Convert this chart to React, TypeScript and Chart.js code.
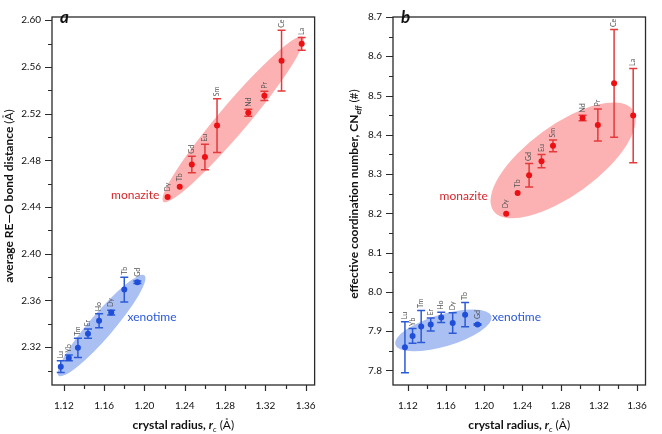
import React, { useEffect, useRef } from 'react';
import { Chart, registerables } from 'chart.js';
Chart.register(...registerables);

// ---------- data ----------
const monaziteElements = ['La', 'Ce', 'Pr', 'Nd', 'Sm', 'Eu', 'Gd', 'Tb', 'Dy'];
const monaziteRadius = [1.356, 1.336, 1.319, 1.303, 1.272, 1.26, 1.247, 1.235, 1.223];
const monaziteDist = [2.5798, 2.5654, 2.5353, 2.5208, 2.5098, 2.4829, 2.4765, 2.4574, 2.4486];
const monaziteDistErr = [0.0055, 0.026, 0.004, 0.003, 0.023, 0.011, 0.007, 0, 0];
const monaziteCN = [8.449, 8.531, 8.425, 8.443, 8.372, 8.333, 8.297, 8.252, 8.199];
const monaziteCNErr = [0.12, 0.137, 0.041, 0.007, 0.015, 0.017, 0.03, 0, 0];

const xenotimeElements = ['Lu', 'Yb', 'Tm', 'Er', 'Ho', 'Dy', 'Tb', 'Gd'];
const xenotimeRadius = [1.117, 1.125, 1.134, 1.144, 1.155, 1.167, 1.18, 1.193];
const xenotimeDist = [2.3033, 2.3108, 2.3194, 2.3316, 2.3427, 2.3496, 2.3693, 2.3756];
const xenotimeDistErr = [0.005, 0.0025, 0.0083, 0.004, 0.006, 0.002, 0.0106, 0.001];
const xenotimeCN = [7.859, 7.888, 7.912, 7.917, 7.935, 7.921, 7.942, 7.917];
const xenotimeCNErr = [0.065, 0.019, 0.041, 0.0165, 0.013, 0.026, 0.031, 0.002];

const xTickLabels = [1.12, 1.16, 1.2, 1.24, 1.28, 1.32, 1.36];
const xMinorStep = 0.02;
const distTickLabels = [2.32, 2.36, 2.4, 2.44, 2.48, 2.52, 2.56, 2.6];
const distMinorStep = 0.02;
const cnTickLabels = [7.8, 7.9, 8.0, 8.1, 8.2, 8.3, 8.4, 8.5, 8.6, 8.7];
const cnMinorStep = 0.05;

// ---------- styles ----------
const FONT = 'Lato, "Open Sans", sans-serif';
const RED = '#ec0f14';
const RED_BAR = '#e43a3c';
const RED_TEXT = '#d8262a';
const PINK = '#fcb2b2';
const BLUE = '#1f4fd8';
const BLUE_BAR = '#2c5ad6';
const BLUE_TEXT = '#2a58d8';
const LIGHTBLUE = '#aac0f3';
const AXIS = '#2a2a2a';
const H = 434;
const W = 331;

type Run = { t: string; f: string; dy?: number };

type PanelCfg = {
  letter: string;
  area: { left: number; right: number; top: number; bottom: number };
  xRange: [number, number];
  yRange: [number, number];
  yTicks: number[];
  yMinor: number;
  yDec: number;
  monY: number[];
  monErr: number[];
  xenY: number[];
  xenErr: number[];
  monEllipse: { x: number; y: number; rx: number; ry: number; angle: number };
  xenEllipse: { x: number; y: number; rx: number; ry: number; angle: number };
  monText: { x: number; y: number };
  xenText: { x: number; y: number };
  yTitle: Run[];
  yTitleX: number;
  yTitleY: number;
};

const xTitle: Run[] = [
  { t: 'crystal radius, ', f: `bold 12px ${FONT}` },
  { t: 'r', f: `bold italic 12px ${FONT}` },
  { t: 'c', f: `italic 8px ${FONT}`, dy: 2.5 },
  { t: ' (Å)', f: `12px ${FONT}` },
];

const panelA: PanelCfg = {
  letter: 'a',
  area: { left: 52, right: 320, top: 5, bottom: 385 },
  xRange: [1.1083, 1.3688],
  yRange: [2.2876, 2.6028],
  yTicks: distTickLabels,
  yMinor: distMinorStep,
  yDec: 2,
  monY: monaziteDist,
  monErr: monaziteDistErr,
  xenY: xenotimeDist,
  xenErr: xenotimeDistErr,
  monEllipse: { x: 1.288, y: 2.5152, rx: 108, ry: 14.5, angle: 49.7 },
  xenEllipse: { x: 1.1575, y: 2.3385, rx: 66, ry: 12, angle: 49.4 },
  monText: { x: 1.2147, y: 2.45 },
  xenText: { x: 1.1832, y: 2.3454 },
  yTitle: [
    { t: 'average RE—O bond distance ', f: `bold 12px ${FONT}` },
    { t: '(Å)', f: `12px ${FONT}` },
  ],
  yTitleX: 12.5,
  yTitleY: 196,
};

const panelB: PanelCfg = {
  letter: 'b',
  area: { left: 62, right: 329, top: 5, bottom: 385 },
  xRange: [1.1045, 1.3689],
  yRange: [7.763, 8.7],
  yTicks: cnTickLabels,
  yMinor: cnMinorStep,
  yDec: 1,
  monY: monaziteCN,
  monErr: monaziteCNErr,
  xenY: xenotimeCN,
  xenErr: xenotimeCNErr,
  monEllipse: { x: 1.2826, y: 8.335, rx: 86, ry: 35, angle: 36 },
  xenEllipse: { x: 1.1572, y: 7.902, rx: 50, ry: 16, angle: 16.5 },
  monText: { x: 1.2038, y: 8.245 },
  xenText: { x: 1.2081, y: 7.9347 },
  yTitle: [
    { t: 'effective coordination number, CN', f: `bold 12px ${FONT}` },
    { t: 'eff', f: `bold italic 8px ${FONT}`, dy: 2.5 },
    { t: ' (#)', f: `12px ${FONT}` },
  ],
  yTitleX: 27,
  yTitleY: 194,
};

function drawRuns(ctx: CanvasRenderingContext2D, runs: Run[], cx: number, cy: number, rotate: boolean) {
  ctx.save();
  ctx.translate(cx, cy);
  if (rotate) ctx.rotate(-Math.PI / 2);
  let total = 0;
  for (const r of runs) {
    ctx.font = r.f;
    total += ctx.measureText(r.t).width;
  }
  let x = -total / 2;
  ctx.fillStyle = '#111';
  ctx.textBaseline = 'alphabetic';
  ctx.textAlign = 'left';
  for (const r of runs) {
    ctx.font = r.f;
    ctx.fillText(r.t, x, r.dy || 0);
    x += ctx.measureText(r.t).width;
  }
  ctx.restore();
}

function makePlugin(cfg: PanelCfg) {
  return {
    id: 'panel' + cfg.letter,
    beforeDatasetsDraw(chart: any) {
      const ctx: CanvasRenderingContext2D = chart.ctx;
      const xs = chart.scales.x;
      const ys = chart.scales.y;
      const ells = [
        { e: cfg.monEllipse, c: PINK },
        { e: cfg.xenEllipse, c: LIGHTBLUE },
      ];
      ctx.save();
      for (const { e, c } of ells) {
        ctx.beginPath();
        ctx.ellipse(xs.getPixelForValue(e.x), ys.getPixelForValue(e.y), e.rx, e.ry, (-e.angle * Math.PI) / 180, 0, Math.PI * 2);
        ctx.fillStyle = c;
        ctx.fill();
      }
      const groups = [
        { xv: monaziteRadius, yv: cfg.monY, ev: cfg.monErr, c: RED_BAR },
        { xv: xenotimeRadius, yv: cfg.xenY, ev: cfg.xenErr, c: BLUE_BAR },
      ];
      ctx.lineWidth = 1.5;
      for (const g of groups) {
        ctx.strokeStyle = g.c;
        g.xv.forEach((xv, i) => {
          const err = g.ev[i];
          if (!err) return;
          const px = xs.getPixelForValue(xv);
          const top = ys.getPixelForValue(g.yv[i] + err);
          const bot = ys.getPixelForValue(g.yv[i] - err);
          ctx.beginPath();
          ctx.moveTo(px, top);
          ctx.lineTo(px, bot);
          ctx.moveTo(px - 4, top);
          ctx.lineTo(px + 4, top);
          ctx.moveTo(px - 4, bot);
          ctx.lineTo(px + 4, bot);
          ctx.stroke();
        });
      }
      ctx.restore();
    },
    afterDatasetsDraw(chart: any) {
      const ctx: CanvasRenderingContext2D = chart.ctx;
      const xs = chart.scales.x;
      const ys = chart.scales.y;
      const groups = [
        { names: monaziteElements, xv: monaziteRadius, yv: cfg.monY, ev: cfg.monErr },
        { names: xenotimeElements, xv: xenotimeRadius, yv: cfg.xenY, ev: cfg.xenErr },
      ];
      ctx.save();
      ctx.font = `7px ${FONT}`;
      ctx.fillStyle = '#555';
      ctx.textAlign = 'left';
      ctx.textBaseline = 'middle';
      for (const g of groups) {
        g.names.forEach((n, i) => {
          const px = xs.getPixelForValue(g.xv[i]);
          const topErr = ys.getPixelForValue(g.yv[i] + g.ev[i]);
          const topPt = ys.getPixelForValue(g.yv[i]) - 3;
          const start = Math.min(topErr, topPt) - 2.5;
          ctx.save();
          ctx.translate(px, start);
          ctx.rotate(-Math.PI / 2);
          ctx.fillText(n, 0, 0);
          ctx.restore();
        });
      }
      // group names
      ctx.font = `12px ${FONT}`;
      ctx.textBaseline = 'middle';
      ctx.fillStyle = RED_TEXT;
      ctx.textAlign = 'right';
      ctx.fillText('monazite', xs.getPixelForValue(cfg.monText.x), ys.getPixelForValue(cfg.monText.y));
      ctx.fillStyle = BLUE_TEXT;
      ctx.textAlign = 'left';
      ctx.fillText('xenotime', xs.getPixelForValue(cfg.xenText.x), ys.getPixelForValue(cfg.xenText.y));
      ctx.restore();
    },
    afterDraw(chart: any) {
      const ctx: CanvasRenderingContext2D = chart.ctx;
      const xs = chart.scales.x;
      const ys = chart.scales.y;
      const a = chart.chartArea;
      ctx.save();
      ctx.strokeStyle = AXIS;
      ctx.lineWidth = 1.3;
      ctx.strokeRect(a.left, a.top, a.right - a.left, a.bottom - a.top);
      ctx.lineWidth = 1.2;
      ctx.beginPath();
      // x ticks
      const x0 = Math.ceil(cfg.xRange[0] / xMinorStep - 1e-6);
      const x1 = Math.floor(cfg.xRange[1] / xMinorStep + 1e-6);
      for (let i = x0; i <= x1; i++) {
        const v = i * xMinorStep;
        const major = xTickLabels.some((t) => Math.abs(t - v) < 1e-6);
        const px = Math.round(xs.getPixelForValue(v)) + 0.5;
        ctx.moveTo(px, a.bottom);
        ctx.lineTo(px, a.bottom + (major ? 6 : 4));
      }
      const y0 = Math.ceil(cfg.yRange[0] / cfg.yMinor - 1e-6);
      const y1 = Math.floor(cfg.yRange[1] / cfg.yMinor + 1e-6);
      for (let i = y0; i <= y1; i++) {
        const v = i * cfg.yMinor;
        const major = cfg.yTicks.some((t) => Math.abs(t - v) < 1e-6);
        const py = Math.round(ys.getPixelForValue(v)) + 0.5;
        ctx.moveTo(a.left, py);
        ctx.lineTo(a.left - (major ? 7 : 4), py);
      }
      ctx.stroke();
      // panel letter
      ctx.font = `bold italic 17px ${FONT}`;
      ctx.fillStyle = '#111';
      ctx.textAlign = 'left';
      ctx.textBaseline = 'alphabetic';
      ctx.fillText(cfg.letter, a.left + 8, 23);
      ctx.restore();
      drawRuns(ctx, xTitle, (a.left + a.right) / 2, 429, false);
      drawRuns(ctx, cfg.yTitle, cfg.yTitleX, cfg.yTitleY, true);
    },
  };
}

function Panel({ cfg, left }: { cfg: PanelCfg; left: number }) {
  const ref = useRef<HTMLCanvasElement>(null);
  useEffect(() => {
    const canvas = ref.current!;
    const chart = new Chart(canvas, {
      type: 'scatter',
      data: {
        datasets: [
          {
            data: monaziteRadius.map((x, i) => ({ x, y: cfg.monY[i] })),
            backgroundColor: RED,
            borderColor: RED,
            pointRadius: 3,
            pointHoverRadius: 3,
            borderWidth: 0,
          },
          {
            data: xenotimeRadius.map((x, i) => ({ x, y: cfg.xenY[i] })),
            backgroundColor: BLUE,
            borderColor: BLUE,
            pointRadius: 3,
            pointHoverRadius: 3,
            borderWidth: 0,
          },
        ],
      },
      options: {
        animation: false,
        responsive: false,
        maintainAspectRatio: false,
        events: [],
        layout: { padding: { top: cfg.area.top, right: W - cfg.area.right, left: 0, bottom: 0 } },
        plugins: { legend: { display: false }, tooltip: { enabled: false } },
        scales: {
          x: {
            type: 'linear',
            min: cfg.xRange[0],
            max: cfg.xRange[1],
            grid: { display: false, drawTicks: false },
            border: { display: false },
            afterBuildTicks: (s: any) => {
              s.ticks = xTickLabels.map((v) => ({ value: v }));
            },
            afterFit: (s: any) => {
              s.height = H - cfg.area.bottom;
            },
            ticks: {
              callback: (v: any) => Number(v).toFixed(2),
              font: { family: FONT, size: 10 },
              color: '#111',
              padding: 15,
              autoSkip: false,
              maxRotation: 0,
            },
          },
          y: {
            type: 'linear',
            min: cfg.yRange[0],
            max: cfg.yRange[1],
            grid: { display: false, drawTicks: false },
            border: { display: false },
            afterBuildTicks: (s: any) => {
              s.ticks = cfg.yTicks.map((v) => ({ value: v }));
            },
            afterFit: (s: any) => {
              s.width = cfg.area.left;
            },
            ticks: {
              callback: (v: any) => Number(v).toFixed(cfg.yDec),
              font: { family: FONT, size: 10 },
              color: '#111',
              padding: 11,
              autoSkip: false,
            },
          },
        },
      } as any,
      plugins: [makePlugin(cfg)],
    });
    return () => chart.destroy();
  }, [cfg]);
  return (
    <canvas
      ref={ref}
      width={W}
      height={H}
      style={{ position: 'absolute', left, top: 0, width: W, height: H, display: 'block' }}
    />
  );
}

export default function App() {
  return (
    <div style={{ position: 'absolute', left: 0, top: 0, width: 662, height: 434, background: '#fff' }}>
      <Panel cfg={panelA} left={0} />
      <Panel cfg={panelB} left={331} />
    </div>
  );
}
